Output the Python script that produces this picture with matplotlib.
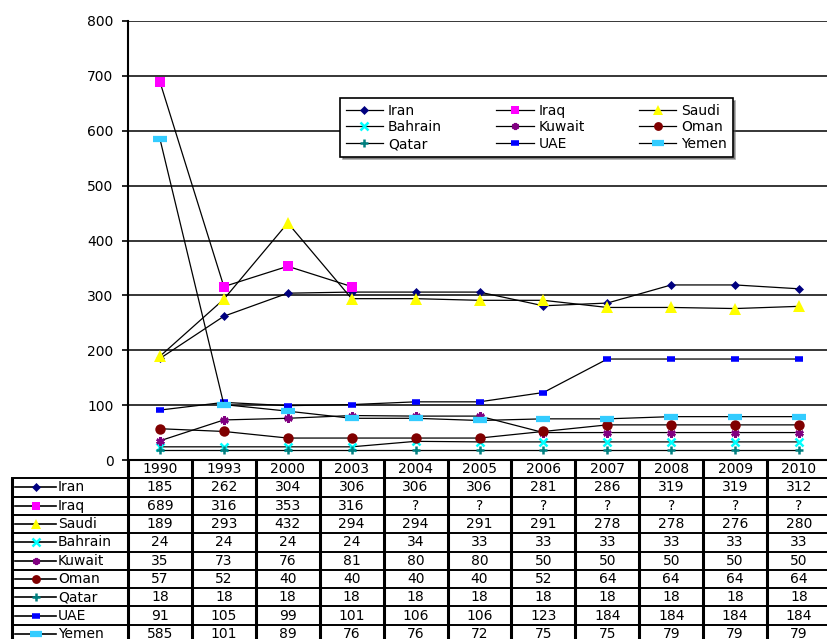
#!/usr/bin/env python3
import numpy as np
import matplotlib.pyplot as plt
from matplotlib.lines import Line2D

plt.rcParams['font.family'] = ['DejaVu Sans']

# ============================================================================
# data
years = ['1990', '1993', '2000', '2003', '2004', '2005',
         '2006', '2007', '2008', '2009', '2010']

nan = np.nan
iran    = [185, 262, 304, 306, 306, 306, 281, 286, 319, 319, 312]
iraq    = [689, 316, 353, 316, nan, nan, nan, nan, nan, nan, nan]
saudi   = [189, 293, 432, 294, 294, 291, 291, 278, 278, 276, 280]
bahrain = [24, 24, 24, 24, 34, 33, 33, 33, 33, 33, 33]
kuwait  = [35, 73, 76, 81, 80, 80, 50, 50, 50, 50, 50]
oman    = [57, 52, 40, 40, 40, 40, 52, 64, 64, 64, 64]
qatar   = [18, 18, 18, 18, 18, 18, 18, 18, 18, 18, 18]
uae     = [91, 105, 99, 101, 106, 106, 123, 184, 184, 184, 184]
yemen   = [585, 101, 89, 76, 76, 72, 75, 75, 79, 79, 79]

names  = ['Iran', 'Iraq', 'Saudi', 'Bahrain', 'Kuwait', 'Oman', 'Qatar', 'UAE', 'Yemen']
series = [iran, iraq, saudi, bahrain, kuwait, oman, qatar, uae, yemen]

# marker styles: (marker, size, edge width, colour)
styles = [
    ('D', 4.5, 0.5, '#000080'),
    ('s', 7.5, 0, '#FF00FF'),
    ('^', 8, 0, '#FFFF00'),
    ('x', 6, 1.8, '#00FFFF'),
    ((6, 2, 0), 6, 1.8, '#800080'),
    ('o', 7.5, 0, '#800000'),
    ('+', 6, 1.8, '#008080'),
    ('_', 6, 4, '#0000FF'),
    ('_', 10, 4.5, '#33CCFF'),
]

FS = 10

# ============================================================================
W, H = 827, 639
x_left, x_right = 128, 831      # plot area in pixels
y_top, y_bot = 21, 460
row_h = 18.3

fig = plt.figure(figsize=(W / 100, H / 100), dpi=100)
ax = fig.add_axes([x_left / W, (H - y_bot) / H,
                   (x_right - x_left) / W, (y_bot - y_top) / H])

x = np.arange(len(years))
handles = []
for name, vals, (mk, ms, mew, col) in zip(names, series, styles):
    ln, = ax.plot(x, vals, color='black', lw=0.9, marker=mk, ms=ms,
                  mfc=col, mec=col, mew=mew, label=name, clip_on=False)
    handles.append(ln)

ax.set_xlim(-0.5, len(years) - 0.5)
ax.set_ylim(0, 800)
ax.set_yticks(range(0, 801, 100))
ax.set_xticks([])
ax.yaxis.grid(True, color='black', lw=1.1)
ax.set_axisbelow(True)
for s in ['top', 'right']:
    ax.spines[s].set_visible(False)
ax.spines['left'].set_linewidth(1.5)
ax.spines['bottom'].set_linewidth(1.5)
ax.tick_params(axis='y', length=4.5, width=1.2, labelsize=FS, pad=6)

# legend, filled row by row like the original
order = [0, 3, 6, 1, 4, 7, 2, 5, 8]
leg = ax.legend([handles[i] for i in order], [names[i] for i in order],
                ncol=3, loc='upper left',
                bbox_to_anchor=((340 - x_left) / (x_right - x_left),
                                (y_bot - 98) / (y_bot - y_top)),
                fontsize=FS, frameon=True, fancybox=False, shadow=True,
                handlelength=2.7, handletextpad=0.35, columnspacing=3.9,
                labelspacing=0.2, borderpad=0.4, borderaxespad=0,
                markerscale=0.85)
leg.get_frame().set_edgecolor('black')
leg.get_frame().set_linewidth(1.2)
leg.get_frame().set_alpha(1)

# ============================================================================
# data table below the chart
nrows = len(names) + 1
tab_h = nrows * row_h
tax = fig.add_axes([x_left / W, (H - y_bot - tab_h) / H,
                    (x_right - x_left) / W, tab_h / H])
tax.set_xlim(-0.5, len(years) - 0.5)
tax.set_ylim(nrows, 0)
tax.axis('off')

col_w = (x_right - x_left) / len(years)
lab_left = -0.5 - (x_left - 12) / col_w

# vertical separators
for i in range(len(years) + 1):
    tax.plot([i - 0.5, i - 0.5], [0, nrows], color='black', lw=2.2,
             clip_on=False, solid_capstyle='butt')
tax.plot([lab_left, lab_left], [1, nrows], color='black', lw=2.2,
         clip_on=False, solid_capstyle='butt')
# horizontal separators
tax.plot([-0.5, len(years) - 0.5], [0, 0], color='black', lw=1.4, clip_on=False)
for r in range(1, nrows + 1):
    tax.plot([lab_left, len(years) - 0.5], [r, r], color='black', lw=1.4,
             clip_on=False)

# header
for i, yr in enumerate(years):
    tax.text(i, 0.5, yr, ha='center', va='center', fontsize=FS)

# rows
for r, (name, vals, (mk, ms, mew, col)) in enumerate(zip(names, series, styles), start=1):
    hx0 = lab_left + 3 / col_w
    hx1 = lab_left + 44 / col_w
    tax.add_line(Line2D([hx0, hx1], [r + 0.5, r + 0.5], color='black', lw=1.2,
                        clip_on=False))
    tax.add_line(Line2D([(hx0 + hx1) / 2], [r + 0.5], marker=mk, ms=ms * 0.85,
                        mfc=col, mec=col, mew=mew, clip_on=False))
    tax.text(lab_left + 46 / col_w, r + 0.5, name, ha='left', va='center',
             fontsize=FS, clip_on=False)
    for i, v in enumerate(vals):
        txt = '?' if np.isnan(v) else '%d' % v
        tax.text(i, r + 0.5, txt, ha='center', va='center', fontsize=FS)

fig.savefig('out.png', dpi=100)
